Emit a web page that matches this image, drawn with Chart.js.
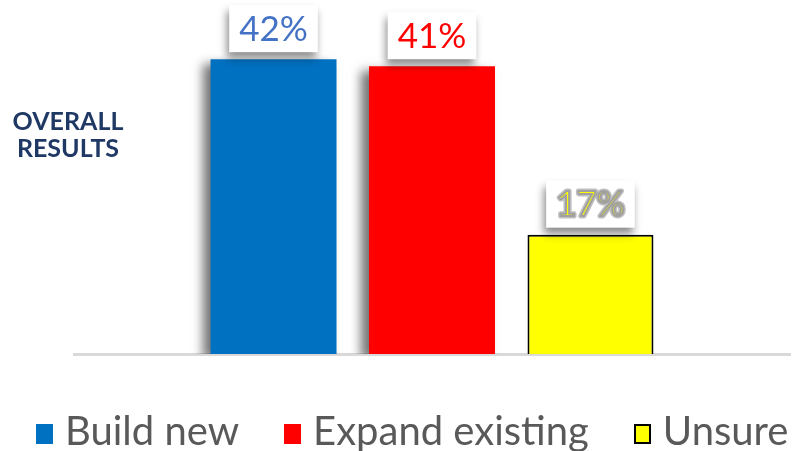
<!DOCTYPE html>
<html>
<head>
<meta charset="utf-8">
<script src="https://cdn.jsdelivr.net/npm/chart.js@4"></script>
<style>
  html, body { margin: 0; padding: 0; background: #fff; }
  #wrap { width: 800px; height: 451px; position: relative; }
  #legend { position: absolute; left: 36px; top: 409px; display: flex; align-items: center;
            font-family: Lato, "Open Sans", sans-serif; font-size: 40px; line-height: 42px; color: #595959; white-space: nowrap; }
  #legend .item { display: flex; align-items: center; margin-right: 45px; }
  #legend .box { width: 17px; height: 20px; margin-right: 12px; position: relative; top: 4px; box-sizing: border-box; }
</style>
</head>
<body>
<div id="wrap"><canvas id="myChart"></canvas><div id="legend"></div></div>
<script>
// data
var categories = ['Overall results']
var seriesNames = ['Build new', 'Expand existing', 'Unsure']
var buildNew = [42]
var expandExisting = [41]
var unsure = [17]
var sideTitle = ['OVERALL', 'RESULTS']

var FONT = 'Lato, "Open Sans", sans-serif'

/** shadow under blue and red bars */
var barShadow = {
    id: 'barShadow',
    beforeDatasetDraw: function (chart, args) {
        var ctx = chart.ctx
        ctx.save()
        if (args.index < 2) {
            ctx.shadowColor = 'rgba(0,0,0,0.55)'
            ctx.shadowBlur = 10
            ctx.shadowOffsetX = -8
            ctx.shadowOffsetY = 5
        }
    },
    afterDatasetDraw: function (chart) {
        chart.ctx.restore()
    }
}

/** value boxes above the bars + left title */
var valueBoxes = {
    id: 'valueBoxes',
    afterDraw: function (chart) {
        var ctx = chart.ctx
        var colors = ['#4472C4', '#FF0000', '#FFFF00']
        chart.data.datasets.forEach(function (ds, i) {
            var bar = chart.getDatasetMeta(i).data[0]
            var txt = ds.data[0] + '%'
            ctx.save()
            ctx.font = '35px ' + FONT
            var w = ctx.measureText(txt).width + 20
            var h = 47
            var x = bar.x - w / 2
            var y = bar.y - 7 - h
            ctx.shadowColor = 'rgba(0,0,0,0.45)'
            ctx.shadowBlur = 8
            ctx.shadowOffsetX = -2
            ctx.shadowOffsetY = 6
            ctx.fillStyle = '#fff'
            ctx.fillRect(x, y, w, h)
            ctx.restore()
            ctx.save()
            ctx.font = '35px ' + FONT
            ctx.textAlign = 'center'
            ctx.textBaseline = 'middle'
            var ty = y + h / 2 + 1
            if (i === 2) {
                // grey outline round a thin yellow core
                ctx.strokeStyle = 'rgba(150,150,150,0.6)'
                ctx.lineWidth = 5
                ctx.lineJoin = 'round'
                ctx.strokeText(txt, bar.x, ty)
            }
            ctx.fillStyle = colors[i]
            ctx.fillText(txt, bar.x, ty)
            if (i === 2) {
                ctx.strokeStyle = '#A0A0A0'
                ctx.lineWidth = 2
                ctx.strokeText(txt, bar.x, ty)
            }
            ctx.restore()
        })
        ctx.save()
        ctx.font = 'bold 25px ' + FONT
        ctx.fillStyle = '#1F3864'
        ctx.textAlign = 'center'
        ctx.textBaseline = 'middle'
        ctx.fillText(sideTitle[0], 68, 122)
        ctx.fillText(sideTitle[1], 68, 149)
        ctx.restore()
    }
}

var ctx = document.getElementById('myChart').getContext('2d')
var myChart = new Chart(ctx, {
    type: 'bar',
    data: {
        labels: categories,
        datasets: [
            { label: seriesNames[0], data: buildNew, backgroundColor: '#0070C0', borderColor: '#0070C0', borderWidth: 0 },
            { label: seriesNames[1], data: expandExisting, backgroundColor: '#FF0000', borderColor: '#FF0000', borderWidth: 0 },
            { label: seriesNames[2], data: unsure, backgroundColor: '#FFFF00', borderColor: '#000', borderWidth: 2 }
        ]
    },
    options: {
        responsive: true,
        maintainAspectRatio: false,
        animation: false,
        categoryPercentage: 0.664,
        barPercentage: 0.795,
        layout: { padding: { left: 40, right: 10, top: 3, bottom: 97 } },
        scales: {
            x: {
                grid: { display: false, drawTicks: false },
                border: { display: true, color: '#D9D9D9', width: 3 },
                ticks: { display: false }
            },
            y: {
                display: true,
                min: 0,
                max: 50,
                grid: { display: false, drawTicks: false },
                border: { display: false },
                ticks: { display: false },
                afterFit: function (scale) { scale.width = 34 }
            }
        },
        plugins: {
            tooltip: { enabled: false },
            legend: { display: false }
        }
    },
    plugins: [barShadow, valueBoxes]
})

/** legend built from the datasets */
var legendEl = document.getElementById('legend')
myChart.data.datasets.forEach(function (ds) {
    var item = document.createElement('div')
    item.className = 'item'
    var box = document.createElement('span')
    box.className = 'box'
    box.style.background = ds.backgroundColor
    if (ds.borderWidth) box.style.border = '2px solid ' + ds.borderColor
    var txt = document.createElement('span')
    txt.textContent = ds.label
    item.appendChild(box)
    item.appendChild(txt)
    legendEl.appendChild(item)
})
</script>
</body>
</html>
